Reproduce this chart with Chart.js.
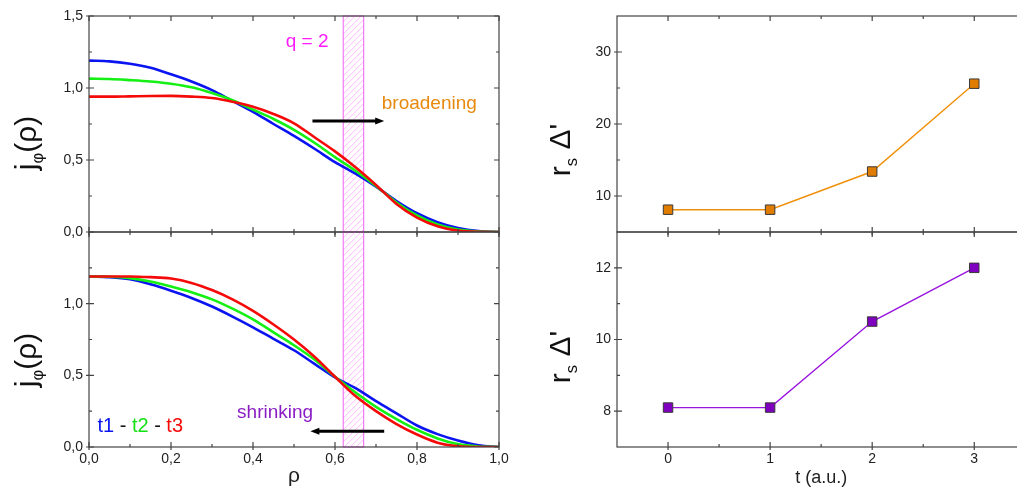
<!DOCTYPE html>
<html lang="en">
<head>
<meta charset="UTF-8">
<title>j profile broadening / shrinking</title>
<script src="https://cdn.jsdelivr.net/npm/chart.js@4.4.1/dist/chart.umd.min.js"></script>
<style>
  body { margin: 0; width: 1017px; height: 489px; overflow: hidden; background: #fff; position: relative;
         font-family: "Liberation Sans", Arial, sans-serif; }
  canvas { position: absolute; }
  .ytitle { position: absolute; transform: translate(-50%, -50%) rotate(-90deg); font-size: 30px;
            color: #111; white-space: nowrap; line-height: 1; }
  .ytitle sub { font-size: 55%; }
</style>
</head>
<body>
<canvas id="tl" width="510" height="240" style="left:0;top:0"></canvas>
<canvas id="bl" width="510" height="265" style="left:0;top:224px"></canvas>
<canvas id="tr" width="503" height="240" style="left:530px;top:0"></canvas>
<canvas id="br" width="503" height="265" style="left:530px;top:224px"></canvas>
<div class="ytitle" style="left:28px;top:143px">j<sub>φ</sub>(ρ)</div>
<div class="ytitle" style="left:28px;top:360px">j<sub>φ</sub>(ρ)</div>
<div class="ytitle" style="left:562px;top:150px">r<sub>s</sub> Δ'</div>
<div class="ytitle" style="left:562px;top:357px">r<sub>s</sub> Δ'</div>
<script>
// normalised radius
const rho = [0, 0.05, 0.1, 0.15, 0.2, 0.25, 0.3, 0.35, 0.4, 0.45, 0.5,
             0.55, 0.6, 0.65, 0.7, 0.75, 0.8, 0.85, 0.9, 0.95, 1.0];

// broadening case (top)
const broadT1 = [1.19, 1.185, 1.168, 1.14, 1.095, 1.045, 0.985, 0.91, 0.835, 0.75, 0.667,
                 0.578, 0.485, 0.405, 0.315, 0.215, 0.13, 0.068, 0.027, 0.006, 0];
const broadT2 = [1.065, 1.063, 1.055, 1.045, 1.03, 1.005, 0.965, 0.915, 0.85, 0.785, 0.71,
                 0.62, 0.52, 0.425, 0.32, 0.205, 0.115, 0.052, 0.017, 0.003, 0];
const broadT3 = [0.94, 0.94, 0.942, 0.944, 0.945, 0.94, 0.93, 0.905, 0.87, 0.82, 0.755,
                 0.658, 0.56, 0.45, 0.327, 0.195, 0.10, 0.04, 0.01, 0.001, 0];

// shrinking case (bottom)
const shrinkT1 = [1.19, 1.185, 1.17, 1.135, 1.09, 1.04, 0.98, 0.91, 0.835, 0.755, 0.675,
                  0.58, 0.485, 0.41, 0.32, 0.235, 0.15, 0.09, 0.045, 0.012, 0];
const shrinkT2 = [1.19, 1.188, 1.178, 1.155, 1.12, 1.08, 1.03, 0.965, 0.89, 0.80, 0.71,
                  0.61, 0.49, 0.38, 0.28, 0.195, 0.12, 0.06, 0.02, 0.004, 0];
const shrinkT3 = [1.19, 1.19, 1.19, 1.185, 1.175, 1.145, 1.095, 1.03, 0.95, 0.855, 0.75,
                  0.63, 0.49, 0.355, 0.25, 0.16, 0.087, 0.03, 0.005, 0, 0];

// stability parameter vs time
const times = [0, 1, 2, 3];
const deltaBroad = [8.1, 8.1, 13.4, 25.6];
const deltaShrink = [8.1, 8.1, 10.5, 12.0];

// tick labels
const rhoTicks = ['0,0', '0,2', '0,4', '0,6', '0,8', '1,0'];
const jTicksTop = ['0,0', '0,5', '1,0', '1,5'];
const jTicksBottom = ['0,0', '0,5', '1,0'];
const tTicks = ['0', '1', '2', '3'];
const deltaTicksTop = ['10', '20', '30'];
const deltaTicksBottom = ['8', '10', '12'];

// q = 2 surface
const q2Band = [0.62, 0.67];

const toNum = s => parseFloat(s.replace(',', '.'));
const pts = (xs, ys) => xs.map((x, i) => ({ x: x, y: ys[i] }));

const framePlugin = {
  id: 'frame',
  afterDraw(chart, args, o) {
    if (!o.xMajor) return;
    const { ctx, chartArea: a, scales: { x, y } } = chart;
    ctx.save();
    ctx.strokeStyle = '#444';
    ctx.lineWidth = 1.2;
    ctx.strokeRect(a.left, a.top, a.right - a.left, a.bottom - a.top);
    ctx.beginPath();
    const xt = (v, len, out) => {
      const p = x.getPixelForValue(v);
      ctx.moveTo(p, a.bottom + out); ctx.lineTo(p, a.bottom - len);
      ctx.moveTo(p, a.top); ctx.lineTo(p, a.top + len);
    };
    const yt = (v, len, out) => {
      const p = y.getPixelForValue(v);
      ctx.moveTo(a.left - out, p); ctx.lineTo(a.left + len, p);
      ctx.moveTo(a.right, p); ctx.lineTo(a.right - len, p);
    };
    o.xMajor.forEach(v => xt(v, 5, 3));
    o.xMinor.forEach(v => xt(v, 3, 0));
    o.yMajor.forEach(v => yt(v, 5, 3));
    o.yMinor.forEach(v => yt(v, 3, 0));
    ctx.stroke();
    ctx.restore();
  }
};

const bandPlugin = {
  id: 'band',
  beforeDatasetsDraw(chart, args, o) {
    if (!o.range) return;
    const { ctx, chartArea: a, scales: { x } } = chart;
    const x0 = x.getPixelForValue(o.range[0]), x1 = x.getPixelForValue(o.range[1]);
    const w = x1 - x0;
    ctx.save();
    ctx.beginPath();
    ctx.rect(x0, a.top, w, a.bottom - a.top);
    ctx.clip();
    ctx.strokeStyle = '#ffa8ff';
    ctx.lineWidth = 0.8;
    ctx.beginPath();
    for (let k = a.top; k < a.bottom + w; k += 6) {
      ctx.moveTo(x0, k);
      ctx.lineTo(x1, k - w);
    }
    ctx.stroke();
    ctx.restore();
    ctx.save();
    ctx.strokeStyle = '#f060f0';
    ctx.lineWidth = 1;
    ctx.strokeRect(x0, a.top, w, a.bottom - a.top);
    ctx.restore();
  }
};

const notesPlugin = {
  id: 'notes',
  afterDatasetsDraw(chart, args, o) {
    const { ctx, scales: { x, y } } = chart;
    ctx.save();
    (o.arrows || []).forEach(ar => {
      const xa = x.getPixelForValue(ar.from), xb = x.getPixelForValue(ar.to), py = y.getPixelForValue(ar.y);
      const dir = Math.sign(xb - xa);
      ctx.strokeStyle = '#000';
      ctx.lineWidth = 3;
      ctx.beginPath();
      ctx.moveTo(xa, py); ctx.lineTo(xb - dir * 6, py);
      ctx.stroke();
      ctx.fillStyle = '#000';
      ctx.beginPath();
      ctx.moveTo(xb, py); ctx.lineTo(xb - dir * 9, py - 3.5); ctx.lineTo(xb - dir * 9, py + 3.5);
      ctx.closePath();
      ctx.fill();
    });
    (o.texts || []).forEach(t => {
      ctx.font = t.size + 'px "Liberation Sans", Arial, sans-serif';
      ctx.textBaseline = 'middle';
      ctx.textAlign = 'left';
      const total = t.parts.reduce((s, p) => s + ctx.measureText(p[0]).width, 0);
      let px = x.getPixelForValue(t.x) - total / 2;
      const py = y.getPixelForValue(t.y);
      t.parts.forEach(p => {
        ctx.fillStyle = p[1];
        ctx.fillText(p[0], px, py);
        px += ctx.measureText(p[0]).width;
      });
    });
    ctx.restore();
  }
};

Chart.register(framePlugin, bandPlugin, notesPlugin);

function yAxis(min, max, labels, width) {
  return {
    type: 'linear', min: min, max: max,
    afterBuildTicks: s => { s.ticks = labels.map(l => ({ value: toNum(l) })); },
    afterFit: s => { s.width = width; s.paddingTop = 0; s.paddingBottom = 0; },
    ticks: { callback: (v, i) => labels[i], color: '#222', font: { size: 14 }, padding: 6 },
    grid: { display: false, drawTicks: false },
    border: { display: false }
  };
}

function xAxis(min, max, labels, title, titleSize) {
  return {
    type: 'linear', min: min, max: max,
    afterBuildTicks: s => { s.ticks = labels.map(l => ({ value: toNum(l) })); },
    afterFit: s => { s.height = 42; s.paddingLeft = 0; s.paddingRight = 0; },
    ticks: { callback: (v, i) => labels[i], color: '#222', font: { size: 14 }, padding: 4,
             autoSkip: false, maxRotation: 0 },
    grid: { display: false, drawTicks: false },
    border: { display: false },
    title: { display: true, text: title, color: '#222', font: { size: titleSize }, padding: 0 }
  };
}

function profileSets(a, b, c) {
  const common = { pointRadius: 0, borderWidth: 2.6, cubicInterpolationMode: 'monotone', fill: false };
  return [
    Object.assign({ label: 't1', data: pts(rho, a), borderColor: '#0a14f0', order: 3 }, common),
    Object.assign({ label: 't2', data: pts(rho, b), borderColor: '#14f014', order: 2 }, common),
    Object.assign({ label: 't3', data: pts(rho, c), borderColor: '#f50a0a', order: 1 }, common)
  ];
}

function deltaSet(vals, line, fill) {
  return [{
    data: pts(times, vals), borderColor: line, borderWidth: 1.4,
    pointStyle: 'rect', pointRadius: 6.7, pointBackgroundColor: fill,
    pointBorderColor: '#3a3a3a', pointBorderWidth: 1
  }];
}

const base = { responsive: false, animation: false, events: [] };

// top left: broadening
new Chart(document.getElementById('tl'), {
  type: 'line',
  data: { datasets: profileSets(broadT1, broadT2, broadT3) },
  options: Object.assign({}, base, {
    layout: { padding: { top: 16, right: 11, bottom: 8, left: 0 } },
    scales: { x: { type: 'linear', min: 0, max: 1, display: false }, y: yAxis(0, 1.5, jTicksTop, 89) },
    plugins: {
      legend: { display: false }, tooltip: { enabled: false },
      frame: { xMajor: rhoTicks.map(toNum), xMinor: [0.1, 0.3, 0.5, 0.7, 0.9],
               yMajor: jTicksTop.map(toNum), yMinor: [0.25, 0.75, 1.25] },
      band: { range: q2Band },
      notes: {
        arrows: [{ from: 0.545, to: 0.72, y: 0.77 }],
        texts: [
          { x: 0.532, y: 1.32, size: 19, parts: [['q = 2', '#ff1aff']] },
          { x: 0.83, y: 0.89, size: 19, parts: [['broadening', '#e8890f']] }
        ]
      }
    }
  })
});

// bottom left: shrinking
new Chart(document.getElementById('bl'), {
  type: 'line',
  data: { datasets: profileSets(shrinkT1, shrinkT2, shrinkT3) },
  options: Object.assign({}, base, {
    layout: { padding: { top: 8, right: 11, bottom: 0, left: 0 } },
    scales: { x: xAxis(0, 1, rhoTicks, 'ρ', 21), y: yAxis(0, 1.5, jTicksBottom, 89) },
    plugins: {
      legend: { display: false }, tooltip: { enabled: false },
      frame: { xMajor: rhoTicks.map(toNum), xMinor: [0.1, 0.3, 0.5, 0.7, 0.9],
               yMajor: jTicksBottom.map(toNum), yMinor: [0.25, 0.75, 1.25] },
      band: { range: q2Band },
      notes: {
        arrows: [{ from: 0.72, to: 0.54, y: 0.11 }],
        texts: [
          { x: 0.454, y: 0.24, size: 19, parts: [['shrinking', '#8a1ec4']] },
          { x: 0.125, y: 0.14, size: 20,
            parts: [['t1', '#0a14f0'], [' - ', '#111'], ['t2', '#14e014'], [' - ', '#111'], ['t3', '#f50a0a']] }
        ]
      }
    }
  })
});

// top right
new Chart(document.getElementById('tr'), {
  type: 'line',
  data: { datasets: deltaSet(deltaBroad, '#f0900a', '#e07d00') },
  options: Object.assign({}, base, {
    layout: { padding: { top: 16, right: 5, bottom: 8, left: 0 } },
    scales: { x: { type: 'linear', min: -0.5, max: 3.5, display: false }, y: yAxis(5, 35, deltaTicksTop, 87) },
    plugins: {
      legend: { display: false }, tooltip: { enabled: false },
      frame: { xMajor: tTicks.map(toNum), xMinor: [0.5, 1.5, 2.5],
               yMajor: deltaTicksTop.map(toNum), yMinor: [15, 25] }
    }
  })
});

// bottom right
new Chart(document.getElementById('br'), {
  type: 'line',
  data: { datasets: deltaSet(deltaShrink, '#9a14e0', '#8000c0') },
  options: Object.assign({}, base, {
    layout: { padding: { top: 8, right: 5, bottom: 0, left: 0 } },
    scales: { x: xAxis(-0.5, 3.5, tTicks, 't (a.u.)', 18), y: yAxis(7, 13, deltaTicksBottom, 87) },
    plugins: {
      legend: { display: false }, tooltip: { enabled: false },
      frame: { xMajor: tTicks.map(toNum), xMinor: [0.5, 1.5, 2.5],
               yMajor: deltaTicksBottom.map(toNum), yMinor: [9, 11] }
    }
  })
});
</script>
</body>
</html>
